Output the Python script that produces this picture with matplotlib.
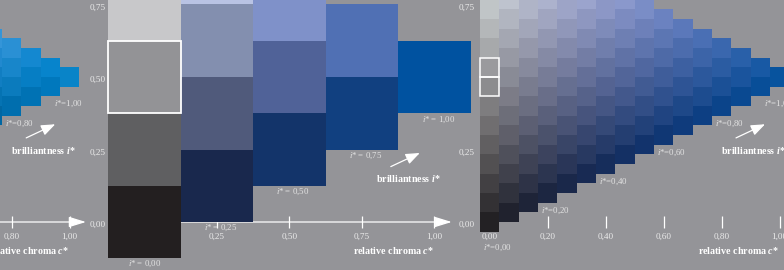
import numpy as np
import matplotlib
matplotlib.use("Agg")
import matplotlib.pyplot as plt
from matplotlib.patches import Rectangle

# ---------------- data ----------------
# middle chart: 4-step triangle (relative chroma c*, relative lightness)
mid_step = 0.25
mid_c = [0, 0, 0, 0, 0.25, 0.25, 0.25, 0.25, 0.5, 0.5, 0.5, 0.75, 0.75, 1.0]
mid_l = [0, 0.25, 0.5, 0.75, 0.125, 0.375, 0.625, 0.875, 0.25, 0.5, 0.75, 0.375, 0.625, 0.5]
mid_colors = ["#231f20", "#5f5f61", "#939396", "#c8c8ca",
              "#19284d", "#505a7b", "#838faf", "#b9c3e4",
              "#13346a", "#506298", "#7f91c9",
              "#114080", "#5070b4",
              "#0052a0"]
mid_outlined = [(0.0, 0.5)]
mid_xticks = [0.0, 0.25, 0.5, 0.75, 1.0]
mid_xticklabels = ["0,00", "0,25", "0,50", "0,75", "1,00"]
mid_yticks = [0.0, 0.25, 0.5, 0.75]
mid_yticklabels = ["0,00", "0,25", "0,50", "0,75"]
mid_i_labels = ["0,00", "0,25", "0,50", "0,75", "1,00"]
mid_i_c = [0.002, 0.264, 0.513, 0.764, 1.014]
mid_i_l = [-0.145, -0.020, 0.105, 0.229, 0.354]

# right chart: 15-step triangle
fine_steps = 15
right_xticks = [0.0, 0.2, 0.4, 0.6, 0.8, 1.0]
right_xticklabels = ["0,00", "0,20", "0,40", "0,60", "0,80", "1,00"]
right_yticks = [0.0, 0.25, 0.75]
right_yticklabels = ["0,00", "0,25", "0,75"]
right_i_labels = ["0,00", "0,20", "0,40", "0,60", "0,80", "1,00"]
right_i_c = [0.028, 0.227, 0.427, 0.626, 0.826, 0.997]
right_i_l = [-0.090, 0.039, 0.139, 0.237, 0.338, 0.407]
right_outlined = [(0.0, 7 / 15), (0.0, 8 / 15)]

# left chart (cut off): visible columns of a 15-step cyan-blue triangle
left_cols = [11, 12, 13, 14, 15]
left_col_colors = [
    ["#0067a3", "#0573b3", "#117ec2", "#2189cf", "#3495d8"],
    ["#006eae", "#0b7bbd", "#1886ca", "#2a90d4"],
    ["#0072b4", "#067ec4", "#1488d0"],
    ["#0078bd", "#0784cc"],
    ["#0984c8"],
]
left_xticks = [0.0, 0.2, 0.4, 0.6, 0.8, 1.0]
left_xticklabels = ["0,00", "0,20", "0,40", "0,60", "0,80", "1,00"]
left_i_labels = ["0,80", "1,00"]
left_i_c = [0.826, 0.997]
left_i_l = [0.338, 0.407]

# ---------------- style / layout ----------------
BG = "#949498"
W_PX, H_PX = 784, 270
PPU = 290.0          # pixels per unit in both directions
ZERO_Y = 222.0       # pixel row of lightness 0
TICK_COL = "#ececec"
LAB_COL = "#e4e4e4"

plt.rcParams["font.family"] = ["Liberation Serif", "DejaVu Serif"]
plt.rcParams["mathtext.fontset"] = "custom"
plt.rcParams["mathtext.rm"] = "Liberation Serif"
plt.rcParams["mathtext.it"] = "Liberation Serif:italic"
plt.rcParams["mathtext.bf"] = "Liberation Serif:bold"
plt.rcParams["mathtext.bfit"] = "Liberation Serif:italic:bold"

fig = plt.figure(figsize=(W_PX / 100, H_PX / 100), dpi=100, facecolor=BG)


def make_ax(x0_px, z):
    ax = fig.add_axes([0, 0, 1, 1], zorder=z)
    ax.set_xlim(-x0_px / PPU, (W_PX - x0_px) / PPU)
    ax.set_ylim(-(H_PX - ZERO_Y) / PPU, ZERO_Y / PPU)
    ax.axis("off")
    ax.patch.set_alpha(0)
    return ax


def draw_axis(ax, ticks, ticklabels, arrow_end):
    ax.annotate("", xy=(arrow_end, 0), xytext=(0, 0),
                arrowprops=dict(arrowstyle="-|>,head_length=1.04,head_width=0.32",
                                mutation_scale=10, color="white", lw=0.9,
                                shrinkA=0, shrinkB=0), zorder=1)
    ax.vlines(ticks, -0.019, 0.019, colors="white", lw=0.9, zorder=1)
    for t, s in zip(ticks, ticklabels):
        ax.text(t, -0.052, s, ha="center", va="center", fontsize=6.6,
                color=TICK_COL, zorder=1)
    ax.text(0.858, -0.097, r"relative chroma $\mathbfit{c}$*", ha="center",
            va="center", fontsize=7.2, fontweight="bold", color="white", zorder=1)


def draw_brill(ax, dy):
    ax.annotate("", xy=(0.95, 0.337 + dy), xytext=(0.85, 0.290 + dy),
                arrowprops=dict(arrowstyle="-|>,head_length=0.85,head_width=0.33",
                                mutation_scale=10, color="white", lw=0.9,
                                shrinkA=0, shrinkB=0), zorder=1)
    ax.text(0.909, 0.248 + dy, r"brilliantness $\mathbfit{i}$*", ha="center",
            va="center", fontsize=7.2, fontweight="bold", color="white", zorder=1)


def cell(ax, c, l, size, color, z=3):
    ax.add_patch(Rectangle((c - size / 2, l - size / 2), size, size,
                           facecolor=color, edgecolor="none", zorder=z))


def outline(ax, c, l, size, lw):
    ax.add_patch(Rectangle((c - size / 2, l - size / 2), size, size,
                           facecolor="none", edgecolor="white", lw=lw, zorder=4))


# ---- right chart ----
axR = make_ax(489.5, 1)
draw_axis(axR, right_xticks, right_xticklabels, 1.06)
draw_brill(axR, 0.0)
for t, s in zip(right_yticks, right_yticklabels):
    axR.text(-0.05, t - 0.011, s, ha="right", va="center", fontsize=6.6,
             color=TICK_COL, zorder=1)
for s, c, l in zip(right_i_labels, right_i_c, right_i_l):
    axR.text(c, l, r"$i$*=" + s, ha="center", va="center", fontsize=6.3,
             color=LAB_COL, zorder=1)

# colours of the fine triangle taken from the coarse chart's colours
A = np.array([[1, c, l, c * c, c * l, l * l] for c, l in zip(mid_c, mid_l)])
rgb = np.array([matplotlib.colors.to_rgb(h) for h in mid_colors])
coef, *_ = np.linalg.lstsq(A, rgb, rcond=None)
fs = 1.0 / fine_steps
for j in range(fine_steps + 1):
    for k in range(fine_steps + 1 - j):
        c = j * fs
        l = (j / 2 + k) * fs
        col = np.clip(np.array([1, c, l, c * c, c * l, l * l]) @ coef, 0, 1)
        cell(axR, c, l, fs, col)
for c, l in right_outlined:
    outline(axR, c, l, fs, 1.1)

# ---- middle chart ----
axM = make_ax(144.3, 2)
draw_axis(axM, mid_xticks, mid_xticklabels, 1.06)
draw_brill(axM, -0.099)
for t, s in zip(mid_yticks, mid_yticklabels):
    axM.text(-0.132, t - 0.011, s, ha="right", va="center", fontsize=6.6,
             color=TICK_COL, zorder=1)
for s, c, l in zip(mid_i_labels, mid_i_c, mid_i_l):
    axM.text(c, l, r"$i$* = " + s, ha="center", va="center", fontsize=6.3,
             color=LAB_COL, zorder=1)
for c, l, col in zip(mid_c, mid_l, mid_colors):
    cell(axM, c, l, mid_step, col)
for c, l in mid_outlined:
    outline(axM, c, l, mid_step, 1.3)

# ---- left chart ----
axL = make_ax(69.7 - PPU, 0)
draw_axis(axL, left_xticks, left_xticklabels, 1.056)
draw_brill(axL, 0.0)
for s, c, l in zip(left_i_labels, left_i_c, left_i_l):
    axL.text(c, l, r"$i$*=" + s, ha="center", va="center", fontsize=6.3,
             color=LAB_COL, zorder=1)
for j, cols in zip(left_cols, left_col_colors):
    for k, col in enumerate(cols):
        cell(axL, j * fs, (j / 2 + k) * fs, fs, col)

fig.savefig("out.png", dpi=100, facecolor=BG)
